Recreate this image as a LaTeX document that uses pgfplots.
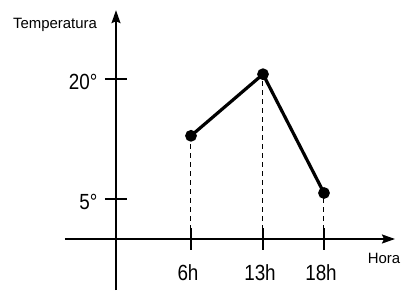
\documentclass[border=0pt]{standalone}
\usepackage{pgfplots}
\pgfplotsset{compat=1.18}
\usepackage{fontspec}
\setmainfont{Liberation Sans}
\newfontfamily\tickfont[FakeStretch=0.86]{Liberation Sans}
\usetikzlibrary{arrows.meta}
\begin{document}
\begin{tikzpicture}
\begin{axis}[
  x=1bp, y=8bp,
  xmin=-51, xmax=279, ymin=-6.4, ymax=28.6,
  axis lines=middle,
  axis line style={line width=1.7bp, -{Stealth[length=13bp,width=9bp,inset=2bp]}},
  xtick={75,147,208}, xticklabels={6h,13h,18h},
  ytick={5,20}, yticklabels={5°,20°},
  major tick length=22bp, tick align=center,
  tick style={line width=1.5bp, black},
  /pgf/number format/assume math mode=true,
  xticklabel style={font=\tickfont\fontsize{22}{24}\selectfont, anchor=north, yshift=-11bp, xshift=-3bp},
  yticklabel style={font=\tickfont\fontsize{22}{24}\selectfont, anchor=east, xshift=-4bp, yshift=-3bp},
  every axis x label/.style={at={(axis cs:268,-2.4)}, anchor=center, font=\fontsize{15}{17}\selectfont},
  every axis y label/.style={at={(axis cs:-61,26.75)}, anchor=center, font=\fontsize{15}{17}\selectfont},
  xlabel={Hora}, ylabel={Temperatura},
  clip=false,
]
\addplot[ycomb, dash pattern=on 5bp off 4bp, line width=1bp, black, no markers] coordinates {(75,12.9) (147,20.6) (208,5.75)};
\addplot[line width=3.2bp, black, mark=*, mark size=4.2bp, mark options={solid}] coordinates {(75,12.9) (147,20.6) (208,5.75)};
\coordinate (bl) at (axis cs:-116,-6.875);
\coordinate (tr) at (axis cs:286,29.875);
\end{axis}
\pgfresetboundingbox
\path[use as bounding box] (bl) rectangle (tr);
\end{tikzpicture}
\end{document}
